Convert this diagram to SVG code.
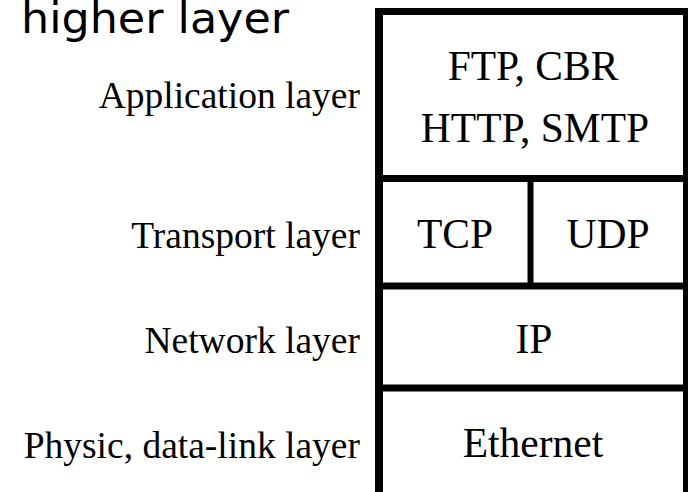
<svg xmlns="http://www.w3.org/2000/svg" width="688" height="492" viewBox="0 0 688 492">
<style>
.lbl{font-family:"Liberation Serif","Times New Roman",serif;font-size:37.5px;fill:#000;text-anchor:end}
.cell{font-family:"Liberation Serif","Times New Roman",serif;font-size:41.5px;fill:#000;text-anchor:middle}
.ttl{font-family:"DejaVu Sans",Verdana,sans-serif;font-size:43px;fill:#000}
.ln{stroke:#000;stroke-width:7;fill:none}
</style>
<rect width="688" height="492" fill="#fff"/>
<text class="ttl" x="21" y="33" textLength="268" lengthAdjust="spacingAndGlyphs">higher layer</text>
<g id="labels">
<text class="lbl" x="360" y="108">Application layer</text>
<text class="lbl" x="360" y="248">Transport layer</text>
<text class="lbl" x="360" y="353">Network layer</text>
<text class="lbl" x="360" y="458">Physic, data-link layer</text>
</g>
<g id="stack">
<rect class="ln" x="378.5" y="11.5" width="308" height="484"/>
<rect x="375" y="8" width="8" height="484" fill="#000"/>
</g>
<g id="connectors">
<line class="ln" x1="378" y1="178.5" x2="688" y2="178.5"/>
<line class="ln" x1="378" y1="286" x2="688" y2="286"/>
<line class="ln" x1="378" y1="388" x2="688" y2="388"/>
<line class="ln" style="stroke-width:6" x1="530.5" y1="178" x2="530.5" y2="286"/>
</g>
<g id="app"><text class="cell" x="533" y="80">FTP, CBR</text><text class="cell" x="535" y="142">HTTP, SMTP</text></g>
<g id="tcp"><text class="cell" x="455" y="248">TCP</text></g>
<g id="udp"><text class="cell" x="608" y="248">UDP</text></g>
<g id="ip"><text class="cell" x="534" y="353">IP</text></g>
<g id="ethernet"><text class="cell" x="533" y="457">Ethernet</text></g>
</svg>
